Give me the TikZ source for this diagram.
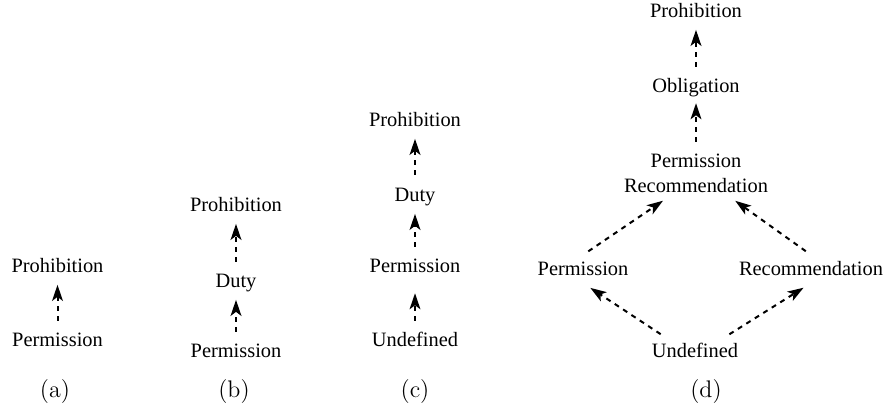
\documentclass[tikz,border=0pt]{standalone}
\usepackage{fontspec}
\usepackage{tikz}
\usetikzlibrary{arrows.meta,calc}
\newfontfamily\termfont{Liberation Serif}
\tikzset{
	term/.style={font=\termfont\fontsize{10.2}{12.4}\selectfont, inner sep=0.333em},
	word/.style={term, text height=7pt, text depth=0pt, anchor=base},
	sublabel/.style={anchor=base, inner sep=0pt, font=\large},
	dep/.style={-{Stealth[length=8pt,width=5.4pt,inset=2pt]}, line width=1pt,
		dash pattern=on 2.5pt off 2.5pt, shorten <=2.5pt, shorten >=2.4pt}
}
\begin{document}
\begin{tikzpicture}[x=0.5pt,y=-0.5pt]
	\useasboundingbox (0,0) rectangle (883,415);
	% (a)
	\node[word] (proA) at (57.5,273) {Prohibition};
	\node[word] (perA) at (57.5,347) {Permission};
	\draw[dep] (perA.north) -- (proA.south);
	\node[sublabel] (capA) at (55,397.5) {(a)};
	% (b)
	\node[word] (proB) at (236,212) {Prohibition};
	\node[word] (dutyB) at (236,288) {Duty};
	\node[word] (perB) at (236,358) {Permission};
	\draw[dep] (perB.north) -- (dutyB.south);
	\draw[dep] (dutyB.north) -- (proB.south);
	\node[sublabel] (capB) at (234,397.5) {(b)};
	% (c)
	\node[word] (proC) at (415,127) {Prohibition};
	\node[word] (dutyC) at (415,202) {Duty};
	\node[word] (perC) at (415,273) {Permission};
	\node[word] (undC) at (415,347) {Undefined};
	\draw[dep, shorten >=6.6pt] (undC.north) -- (perC.south);
	\draw[dep] (perC.north) -- (dutyC.south);
	\draw[dep, shorten <=3.2pt] (dutyC.north) -- (proC.south);
	\node[sublabel] (capC) at (415,397.5) {(c)};
	% (d)
	\node[word] (proD) at (696,18) {Prohibition};
	\node[word] (oblD) at (696,93) {Obligation};
	\node[term, align=center, anchor=north] (prD) at (696,147) {Permission\\Recommendation};
	\node[word] (perD) at (583,276) {Permission};
	\node[word] (recD) at (811,276) {Recommendation};
	\node[word] (undD) at (695,358) {Undefined};
	\draw[dep] (oblD.north) -- (proD.south);
	\draw[dep, shorten >=1.6pt] (prD.north) -- (oblD.south);
	\draw[dep, shorten <=3.2pt, shorten >=1pt] (perD.north) -- (prD.220);
	\draw[dep, shorten <=3.2pt, shorten >=1pt] (recD.north) -- (prD.-35);
	\draw[dep, shorten >=4.4pt] (undD.155) -- (perD.south);
	\draw[dep, shorten >=4.4pt] (undD.25) -- (recD.south);
	\node[sublabel] (capD) at (706,397.5) {(d)};
\end{tikzpicture}
\end{document}
